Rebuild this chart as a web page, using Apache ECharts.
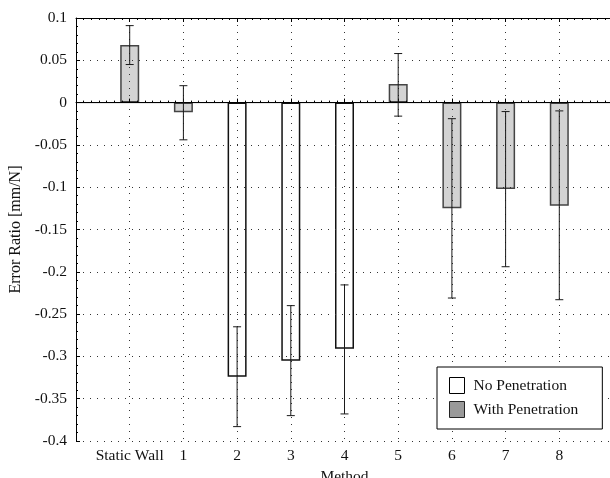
<!DOCTYPE html>
<html>
<head>
<meta charset="utf-8">
<script src="https://cdn.jsdelivr.net/npm/echarts@6/dist/echarts.min.js"></script>
<style>html,body{margin:0;padding:0;background:#fff}#c{width:610px;height:478px}</style>
</head>
<body>
<div id="c"></div>
<script>
const tickLabels = ['Static Wall', '1', '2', '3', '4', '5', '6', '7', '8'];
const noPenetration = [null, null, -0.324, -0.305, -0.291, null, null, null, null];
const withPenetration = [0.068, -0.0115, null, null, null, 0.022, -0.125, -0.102, -0.122];
const errLow = [0.045, -0.044, -0.383, -0.370, -0.368, -0.016, -0.231, -0.194, -0.233];
const errHigh = [0.091, 0.020, -0.265, -0.240, -0.2155, 0.058, -0.019, -0.0106, -0.0098];
const yMin = -0.4, yMax = 0.1, yStep = 0.05;

const FONT = 'Liberation Serif';
const FS = 15.5;
const pos = tickLabels.map((_, i) => i + 1);
const chart = echarts.init(document.getElementById('c'));
const dotted = { color: '#333', width: 1, type: [1, 6] };

const xBase = {
  type: 'value', min: 0, max: tickLabels.length + 1, interval: 1,
  axisLine: { show: true, lineStyle: { color: '#000', width: 1 } },
  axisTick: { show: true, inside: true, length: 4, lineStyle: { color: '#000' } },
  minorTick: { show: true, splitNumber: 7, length: 2, lineStyle: { color: '#000' } },
  minorSplitLine: { show: false }
};

chart.setOption({
  animation: false,
  backgroundColor: '#fff',
  grid: { left: 76, right: -3, top: 18, bottom: 37, containLabel: false, outerBoundsMode: 'none' },
  legend: {
    orient: 'vertical', left: 437, top: 367, z: 10,
    backgroundColor: '#fff', borderColor: '#000', borderWidth: 1,
    padding: [10, 24, 11, 12], itemGap: 7, itemWidth: 15, itemHeight: 16,
    icon: 'rect',
    textStyle: { fontFamily: FONT, fontSize: FS, color: '#111', padding: [0, 0, 0, 4] },
    data: [
      { name: 'No Penetration', itemStyle: { color: '#fff', borderColor: '#000', borderWidth: 1 } },
      { name: 'With Penetration', itemStyle: { color: '#999', borderColor: '#222', borderWidth: 1 } }
    ]
  },
  xAxis: [
    Object.assign({}, xBase, {
      position: 'bottom', z: 3,
      axisLabel: {
        fontFamily: FONT, fontSize: FS, color: '#111', margin: 7,
        formatter: v => (v >= 1 && v <= tickLabels.length) ? tickLabels[v - 1] : ''
      },
      splitLine: { show: true, lineStyle: dotted },
      name: 'Method', nameLocation: 'middle', nameGap: 23,
      nameTextStyle: { fontFamily: FONT, fontSize: FS, color: '#111' }
    }),
    Object.assign({}, xBase, {
      position: 'top', z: 3,
      axisLabel: { show: false }, splitLine: { show: false }
    })
  ],
  yAxis: {
    type: 'value', min: yMin, max: yMax, interval: yStep, z: 3,
    axisLine: { show: true, lineStyle: { color: '#000', width: 1 } },
    axisTick: { show: true, inside: true, length: 4, lineStyle: { color: '#000' } },
    minorTick: { show: true, splitNumber: 5, length: 2, lineStyle: { color: '#000' } },
    splitLine: { show: true, lineStyle: dotted },
    axisLabel: {
      fontFamily: FONT, fontSize: FS, color: '#111', margin: 9,
      formatter: v => String(parseFloat(v.toFixed(2)))
    },
    name: 'Error Ratio [mm/N]', nameLocation: 'middle', nameGap: 49,
    nameTextStyle: { fontFamily: FONT, fontSize: 16, color: '#111' }
  },
  series: [
    {
      name: 'No Penetration', type: 'bar', barWidth: 19, barGap: '-100%', z: 2,
      itemStyle: { color: '#fff', borderColor: '#111', borderWidth: 1.5 },
      data: pos.map((p, i) => [p, noPenetration[i]])
    },
    {
      name: 'With Penetration', type: 'bar', barWidth: 19, barGap: '-100%', z: 2,
      itemStyle: { color: '#d3d3d3', borderColor: '#444', borderWidth: 1.5 },
      data: pos.map((p, i) => [p, withPenetration[i]])
    },
    {
      name: 'zero', type: 'line', z: 5, symbol: 'none', silent: true,
      lineStyle: { color: '#000', width: 1 },
      data: [[0, 0], [tickLabels.length + 1, 0]]
    },
    {
      name: 'err', type: 'custom', z: 6, silent: true,
      encode: { x: 0, y: [1, 2] },
      data: pos.map((p, i) => [p, errLow[i], errHigh[i]]),
      renderItem: function (params, api) {
        const x = api.value(0), lo = api.value(1), hi = api.value(2);
        const a = api.coord([x, lo]), b = api.coord([x, hi]);
        const hw = 4;
        const st = { stroke: '#1a1a1a', lineWidth: 1 };
        return {
          type: 'group', children: [
            { type: 'line', shape: { x1: a[0], y1: a[1], x2: b[0], y2: b[1] }, style: st },
            { type: 'line', shape: { x1: a[0] - hw, y1: a[1], x2: a[0] + hw, y2: a[1] }, style: st },
            { type: 'line', shape: { x1: b[0] - hw, y1: b[1], x2: b[0] + hw, y2: b[1] }, style: st }
          ]
        };
      }
    }
  ]
});
</script>
</body>
</html>
